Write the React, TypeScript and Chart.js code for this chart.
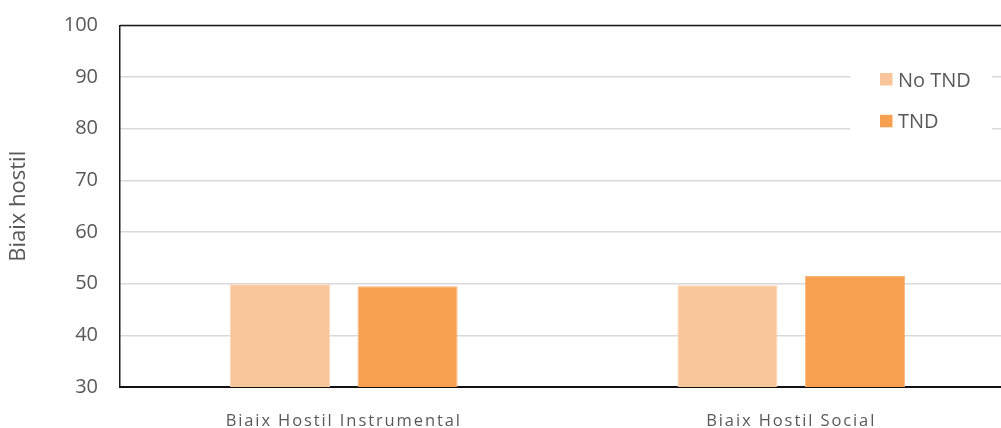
import React, { useEffect, useRef } from "react";
import { Chart, registerables } from "chart.js";

Chart.register(...registerables);

const categories = ["Biaix Hostil Instrumental", "Biaix Hostil Social"];
const seriesLabels = ["No TND", "TND"];
const noTndValues = [49.9, 49.7];
const tndValues = [49.5, 51.5];
const yTicks = [30, 40, 50, 60, 70, 80, 90, 100];
const yTitle = "Biaix hostil";

const FONT = "'Open Sans', 'DejaVu Sans', sans-serif";
const TEXT = "#595959";

const framePlugin = {
  id: "frame",
  afterDatasetsDraw(chart: any) {
    const { ctx } = chart;
    ctx.save();
    ctx.fillStyle = "#ffffff";
    ctx.fillRect(850, 60, 142, 84);
    const rows = [86.5, 128.3];
    chart.data.datasets.forEach((ds: any, i: number) => {
      const base = rows[i];
      ctx.fillStyle = ds.backgroundColor;
      ctx.fillRect(880, base - 13.5, 12.5, 12.5);
      ctx.fillStyle = TEXT;
      ctx.font = `20px ${FONT}`;
      ctx.textBaseline = "alphabetic";
      ctx.textAlign = "left";
      ctx.fillText(ds.label, 898, base);
    });
    ctx.restore();
    // wider letter spacing for the category labels, drawn after this hook
    ctx.letterSpacing = "1.9px";
  },
  afterDraw(chart: any) {
    const { ctx, chartArea } = chart;
    ctx.letterSpacing = "0px";
    ctx.save();
    ctx.strokeStyle = "#1a1a1a";
    ctx.lineWidth = 1.5;
    ctx.beginPath();
    ctx.moveTo(chartArea.left, chartArea.top);
    ctx.lineTo(chartArea.right, chartArea.top);
    ctx.stroke();
    ctx.restore();
  },
};

export default function App() {
  const ref = useRef<HTMLCanvasElement | null>(null);
  useEffect(() => {
    if (!ref.current) return;
    const chart = new Chart(ref.current, {
      type: "bar",
      data: {
        labels: categories,
        datasets: [
          {
            label: seriesLabels[0],
            data: noTndValues,
            backgroundColor: "#F9C59A",
            borderColor: "#FBD6B7",
            borderWidth: 1,
            categoryPercentage: 0.5705,
            barPercentage: 0.784,
          },
          {
            label: seriesLabels[1],
            data: tndValues,
            backgroundColor: "#F7A050",
            borderColor: "#F9B67A",
            borderWidth: 1,
            categoryPercentage: 0.5705,
            barPercentage: 0.784,
          },
        ],
      },
      options: {
        responsive: false,
        animation: false,
        layout: {
          padding: { left: 0, top: 25.5, right: 15, bottom: 0 },
        },
        plugins: {
          legend: { display: false },
          tooltip: { enabled: false },
        },
        scales: {
          x: {
            grid: { display: false },
            border: { display: true, color: "#111111", width: 2 },
            ticks: {
              z: 1,
              color: TEXT,
              font: { family: FONT, size: 16.5 },
              padding: 16,
            },
            afterFit: (s: any) => {
              s.height = 41;
              s.paddingLeft = 0;
              s.paddingRight = 0;
            },
          },
          y: {
            min: 30,
            max: 100,
            afterBuildTicks: (s: any) => {
              s.ticks = yTicks.map((v) => ({ value: v }));
            },
            grid: { color: "#D9D9D9", lineWidth: 1.5, drawTicks: false },
            border: { display: true, color: "#1a1a1a", width: 1.5 },
            ticks: {
              color: TEXT,
              font: { family: FONT, size: 20 },
              padding: 22,
            },
            title: {
              display: true,
              text: yTitle,
              color: TEXT,
              font: { family: FONT, size: 22 },
              padding: { top: 6, bottom: 0 },
            },
            afterFit: (s: any) => {
              s.width = 120;
              s.paddingTop = 0;
              s.paddingBottom = 0;
            },
          },
        },
      },
      plugins: [framePlugin],
    });
    return () => chart.destroy();
  }, []);

  return (
    <div
      style={{
        position: "absolute",
        left: 0,
        top: 0,
        width: 1001,
        height: 428,
        overflow: "hidden",
        background: "#ffffff",
      }}
    >
      <canvas
        ref={ref}
        width={1030}
        height={428}
        style={{ display: "block", width: 1030, height: 428 }}
      />
    </div>
  );
}
